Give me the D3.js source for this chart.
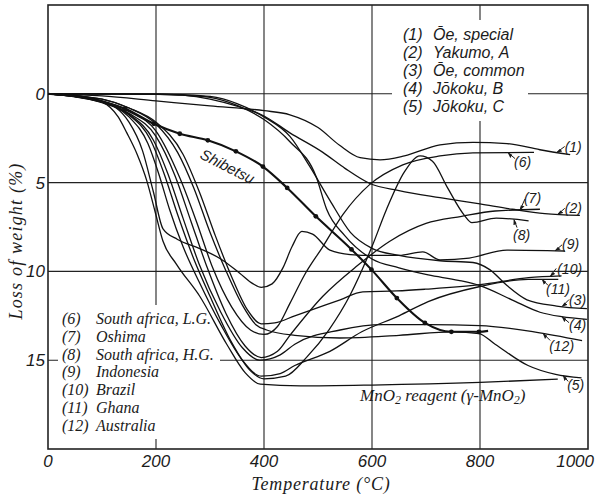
<!DOCTYPE html>
<html>
<head>
<meta charset="utf-8">
<script src="https://d3js.org/d3.v7.min.js"></script>
<style>
body { margin: 0; background: #fff; }
svg text { fill: #1b1b1b; }
</style>
</head>
<body>
<svg id="chart" width="595" height="495"></svg>
<script>
// values: [temperature (°C), loss of weight (%)]
const oeSpecial = [[0,0],[100,0.12],[200,0.4],[300,0.68],[400,0.95],[448,1.18],[500,1.9],[540,2.9],[578,3.6],[615,3.72],[660,3.5],[726,2.87],[787,2.73],[850,2.8],[911,3.15],[967,3.43]];
const yakumoA = [[0,0],[150,0],[200,0.02],[250,0.08],[300,0.3],[350,0.7],[400,1.25],[448,2.2],[509,3.3],[550,4.2],[596,5.05],[650,5.45],[726,5.85],[800,6.2],[860,6.5],[920,6.75],[985,6.85]];
const oeCommon = [[0,0],[200,0.02],[250,0.05],[300,0.15],[350,0.55],[400,1.3],[448,2.4],[485,4.1],[522,6.0],[560,7.8],[600,8.7],[650,9.1],[726,9.4],[787,9.5],[818,9.9],[850,10.8],[887,11.6],[942,11.95],[998,12.1]];
const jokokuB = [[0,0],[200,0.03],[250,0.08],[300,0.2],[350,0.65],[400,1.45],[448,2.7],[497,4.7],[516,6.5],[550,8.0],[600,9.3],[650,9.8],[704,10.2],[760,10.5],[800,10.8],[859,11.6],[911,12.3],[951,12.55],[998,12.7]];
const jokokuC = [[0,0],[100,0.3],[150,0.8],[200,1.7],[240,3.3],[270,5.3],[300,7.8],[330,10.0],[360,11.9],[385,13.0],[405,13.3],[457,13.6],[541,13.75],[650,13.6],[750,13.4],[798,13.5],[828,14.1],[889,15.3],[940,15.8],[988,16.0]];
const sAfricaLG = [[0,0],[100,0.4],[150,1.0],[200,2.1],[245,4.8],[275,7.2],[305,9.8],[340,12.0],[375,13.3],[400,13.55],[425,13.1],[448,11.8],[475,10.2],[509,8.6],[546,6.8],[596,5.1],[657,4.0],[726,3.5],[787,3.33],[900,3.3]];
const oshima = [[0,0],[100,0.45],[150,1.1],[200,2.4],[235,4.6],[265,7.2],[295,9.8],[330,12.4],[365,14.2],[395,14.85],[425,14.5],[448,13.6],[509,11.4],[572,9.7],[633,8.3],[700,7.3],[766,6.9],[828,6.6],[911,6.5]];
const sAfricaHG = [[0,0],[100,0.45],[150,1.2],[190,2.6],[215,4.5],[240,6.8],[270,9.3],[300,11.4],[340,14.0],[375,15.6],[400,16.05],[440,15.9],[480,14.8],[520,13.3],[560,11.3],[600,8.6],[627,6.5],[660,4.4],[689,3.5],[712,3.8],[740,5.3],[770,6.8],[785,7.25],[830,7.0],[890,7.15]];
const indonesia = [[0,0],[50,0.1],[100,0.4],[150,1.6],[175,3.2],[195,5.5],[213,7.6],[240,8.2],[280,8.7],[320,9.3],[355,10.1],[380,10.7],[395,10.9],[415,10.7],[435,9.8],[452,8.6],[470,7.75],[490,7.9],[522,8.8],[560,9.05],[602,9.1],[650,9.1],[694,8.9],[726,9.35],[780,9.25],[850,8.8],[957,8.85]];
const brazil = [[0,0],[100,0.3],[150,0.8],[200,1.6],[250,3.4],[280,5.5],[310,8.0],[340,10.3],[370,12.2],[395,12.95],[420,12.9],[457,12.5],[541,11.6],[583,11.15],[646,11.1],[700,11.0],[800,10.75],[890,10.35],[951,10.25]];
const ghana = [[0,0],[100,0.5],[150,1.3],[185,2.8],[205,4.5],[225,6.5],[250,8.6],[280,10.6],[320,13.0],[360,15.0],[395,15.9],[430,15.75],[457,15.3],[522,14.5],[581,13.4],[650,12.5],[704,11.7],[800,10.85],[889,10.45],[945,10.45]];
const australia = [[0,0],[100,0.45],[150,1.15],[195,2.6],[222,4.5],[250,7.0],[280,9.6],[320,12.3],[360,14.3],[392,15.0],[430,14.7],[457,14.1],[541,13.3],[620,13.0],[704,13.0],[800,13.05],[900,13.4],[989,13.9]];
const mno2Reagent = [[0,0],[50,0.1],[100,0.45],[130,1.3],[146,2.2],[165,3.4],[183,4.9],[198,6.6],[213,8.3],[238,9.6],[281,11.4],[331,14.1],[365,15.7],[393,16.35],[467,16.45],[600,16.4],[800,16.25],[944,16.07]];
const shibetsu = [[0,0],[50,0.15],[100,0.45],[143,0.84],[196,1.69],[244,2.25],[296,2.62],[348,3.24],[398,4.1],[443,5.3],[496,6.9],[562,8.76],[599,9.9],[646,11.5],[698,12.9],[747,13.4],[798,13.4],[815,13.35]];
const shibetsuDots = [143,196,244,296,348,398,443,496,562,599,646,698,747,798];

const numbered = [oeSpecial, yakumoA, oeCommon, jokokuB, jokokuC, sAfricaLG, oshima, sAfricaHG, indonesia, brazil, ghana, australia];
const numberLabels = ["(1)","(2)","(3)","(4)","(5)","(6)","(7)","(8)","(9)","(10)","(11)","(12)"];
const arrowAtT = [942,944,952,952,954,852,874,863,939,930,915,917];

const legendTop = ["Ōe, special","Yakumo, A","Ōe, common","Jōkoku, B","Jōkoku, C"];
const legendBottom = ["South africa, L.G.","Oshima","South africa, H.G.","Indonesia","Brazil","Ghana","Australia"];

const xTicks = [0,200,400,600,800,1000];
const yTicks = [0,5,10,15];

// label placement next to the arrow tips (pixels): [label dx, label dy, tail dx, tail dy]
const tagOffsets = [[8,0,8,-6],[7,-1,7,-6],[7,-2,7,-7],[7,13,7,6],[4,15,5,6],[6,14,7,6],[4,-7,5,-11],[-1,20,3,8],[7,-2,7,-6],[7,-2,6,-8],[4,15,6,6],[6,18,7,7]];

const svg = d3.select("#chart");
const x = d3.scaleLinear().domain([0,1000]).range([48,588]);
const y = d3.scaleLinear().domain([-5,20]).range([5,449]);

const sans = "'Liberation Sans', Arial, sans-serif";
const serif = "'Liberation Serif', 'Times New Roman', serif";

// holes in the grid where the legends sit
const defs = svg.append("defs");
const mask = defs.append("mask").attr("id","gridmask");
mask.append("rect").attr("width",595).attr("height",495).attr("fill","#fff");
mask.append("rect").attr("x",392).attr("y",20).attr("width",136).attr("height",101).attr("fill","#000");
mask.append("rect").attr("x",58).attr("y",305).attr("width",162).attr("height",134).attr("fill","#000");

defs.append("marker").attr("id","head")
  .attr("viewBox","0 -4 8 8").attr("refX",7).attr("refY",0)
  .attr("markerWidth",6).attr("markerHeight",6).attr("orient","auto")
  .append("path").attr("d","M0,-3.5L8,0L1,1.5Z").attr("fill","#1b1b1b");

const grid = svg.append("g").attr("mask","url(#gridmask)")
  .attr("stroke","#222").attr("stroke-width",1.1);
grid.selectAll(".vg").data(xTicks.slice(1,-1)).enter().append("line")
  .attr("x1",d => x(d)).attr("x2",d => x(d))
  .attr("y1",y(-5)).attr("y2",y(20));
grid.selectAll(".hg").data(yTicks).enter().append("line")
  .attr("x1",x(0)).attr("x2",x(1000))
  .attr("y1",d => y(d)).attr("y2",d => y(d));

svg.append("rect").attr("x",x(0)).attr("y",y(-5))
  .attr("width",x(1000)-x(0)).attr("height",y(20)-y(-5))
  .attr("fill","none").attr("stroke","#222").attr("stroke-width",1.6);

// tick labels
svg.selectAll(".xt").data(xTicks).enter().append("text")
  .attr("x",d => d === 1000 ? 594 : x(d))
  .attr("y",467)
  .attr("text-anchor",d => d === 1000 ? "end" : "middle")
  .style("font-family",sans).style("font-style","italic").style("font-size","17px")
  .text(d => d);
svg.selectAll(".yt").data(yTicks).enter().append("text")
  .attr("x",45).attr("y",d => y(d)+6)
  .attr("text-anchor","end")
  .style("font-family",sans).style("font-style","italic").style("font-size","17px")
  .text(d => d);

svg.append("text").attr("x",321).attr("y",490).attr("text-anchor","middle")
  .style("font-family",serif).style("font-style","italic").style("font-size","18px")
  .style("letter-spacing","0.8px")
  .text("Temperature  (°C)");
svg.append("text").attr("transform","translate(22,241) rotate(-90)").attr("text-anchor","middle")
  .style("font-family",serif).style("font-style","italic").style("font-size","18px")
  .style("letter-spacing","1.2px")
  .text("Loss  of  weight   (%)");

// curves
const line = d3.line().x(d => x(d[0])).y(d => y(d[1])).curve(d3.curveMonotoneX);
const curveG = svg.append("g").attr("fill","none").attr("stroke","#111");
curveG.selectAll(".c").data(numbered.concat([mno2Reagent])).enter().append("path")
  .attr("d",line).attr("stroke-width",1.3);
curveG.append("path").datum(shibetsu).attr("d",line).attr("stroke-width",2.1);

function lossAt(series, t) {
  for (let i = 1; i < series.length; i++) {
    if (series[i][0] >= t) {
      const a = series[i-1], b = series[i];
      return a[1] + (b[1]-a[1])*(t-a[0])/(b[0]-a[0]);
    }
  }
  return series[series.length-1][1];
}

svg.selectAll(".dot").data(shibetsuDots).enter().append("circle")
  .attr("cx",d => x(d)).attr("cy",d => y(lossAt(shibetsu,d)))
  .attr("r",2.4).attr("fill","#111");

svg.append("text")
  .attr("transform","translate(" + x(328) + "," + (y(lossAt(shibetsu,328))+24) + ") rotate(27)")
  .attr("text-anchor","middle")
  .style("font-family",sans).style("font-style","italic").style("font-size","15px")
  .text("Shibetsu");

const mText = svg.append("text").attr("x",x(578)).attr("y",y(16.4)+16)
  .style("font-family",serif).style("font-style","italic").style("font-size","17px");
mText.append("tspan").text("MnO");
mText.append("tspan").attr("dy",3).style("font-size","12px").text("2");
mText.append("tspan").attr("dy",-3).text(" reagent (γ-MnO");
mText.append("tspan").attr("dy",3).style("font-size","12px").text("2");
mText.append("tspan").attr("dy",-3).text(")");

// numbered tags with arrows at the right end of the curves
numbered.forEach(function(s, i) {
  const tx = x(arrowAtT[i]), ty = y(lossAt(s, arrowAtT[i]));
  const o = tagOffsets[i];
  svg.append("line").attr("x1",tx+o[2]).attr("y1",ty+o[3]).attr("x2",tx).attr("y2",ty)
    .attr("stroke","#1b1b1b").attr("stroke-width",1).attr("marker-end","url(#head)");
  svg.append("text").attr("x",tx+o[0]).attr("y",ty+o[1])
    .style("font-family",sans).style("font-style","italic").style("font-size","14px")
    .text(numberLabels[i]);
});

// legends
const topG = svg.append("g").style("font-family",sans).style("font-style","italic").style("font-size","16px");
legendTop.forEach(function(name, i) {
  topG.append("text").attr("x",403).attr("y",40+i*18).text(numberLabels[i]);
  topG.append("text").attr("x",433).attr("y",40+i*18).text(name);
});
const botG = svg.append("g").style("font-family",serif).style("font-style","italic").style("font-size","16px");
legendBottom.forEach(function(name, i) {
  botG.append("text").attr("x",62).attr("y",324+i*17.8).text(numberLabels[i+5]);
  botG.append("text").attr("x",96).attr("y",324+i*17.8).text(name);
});
</script>
</body>
</html>
